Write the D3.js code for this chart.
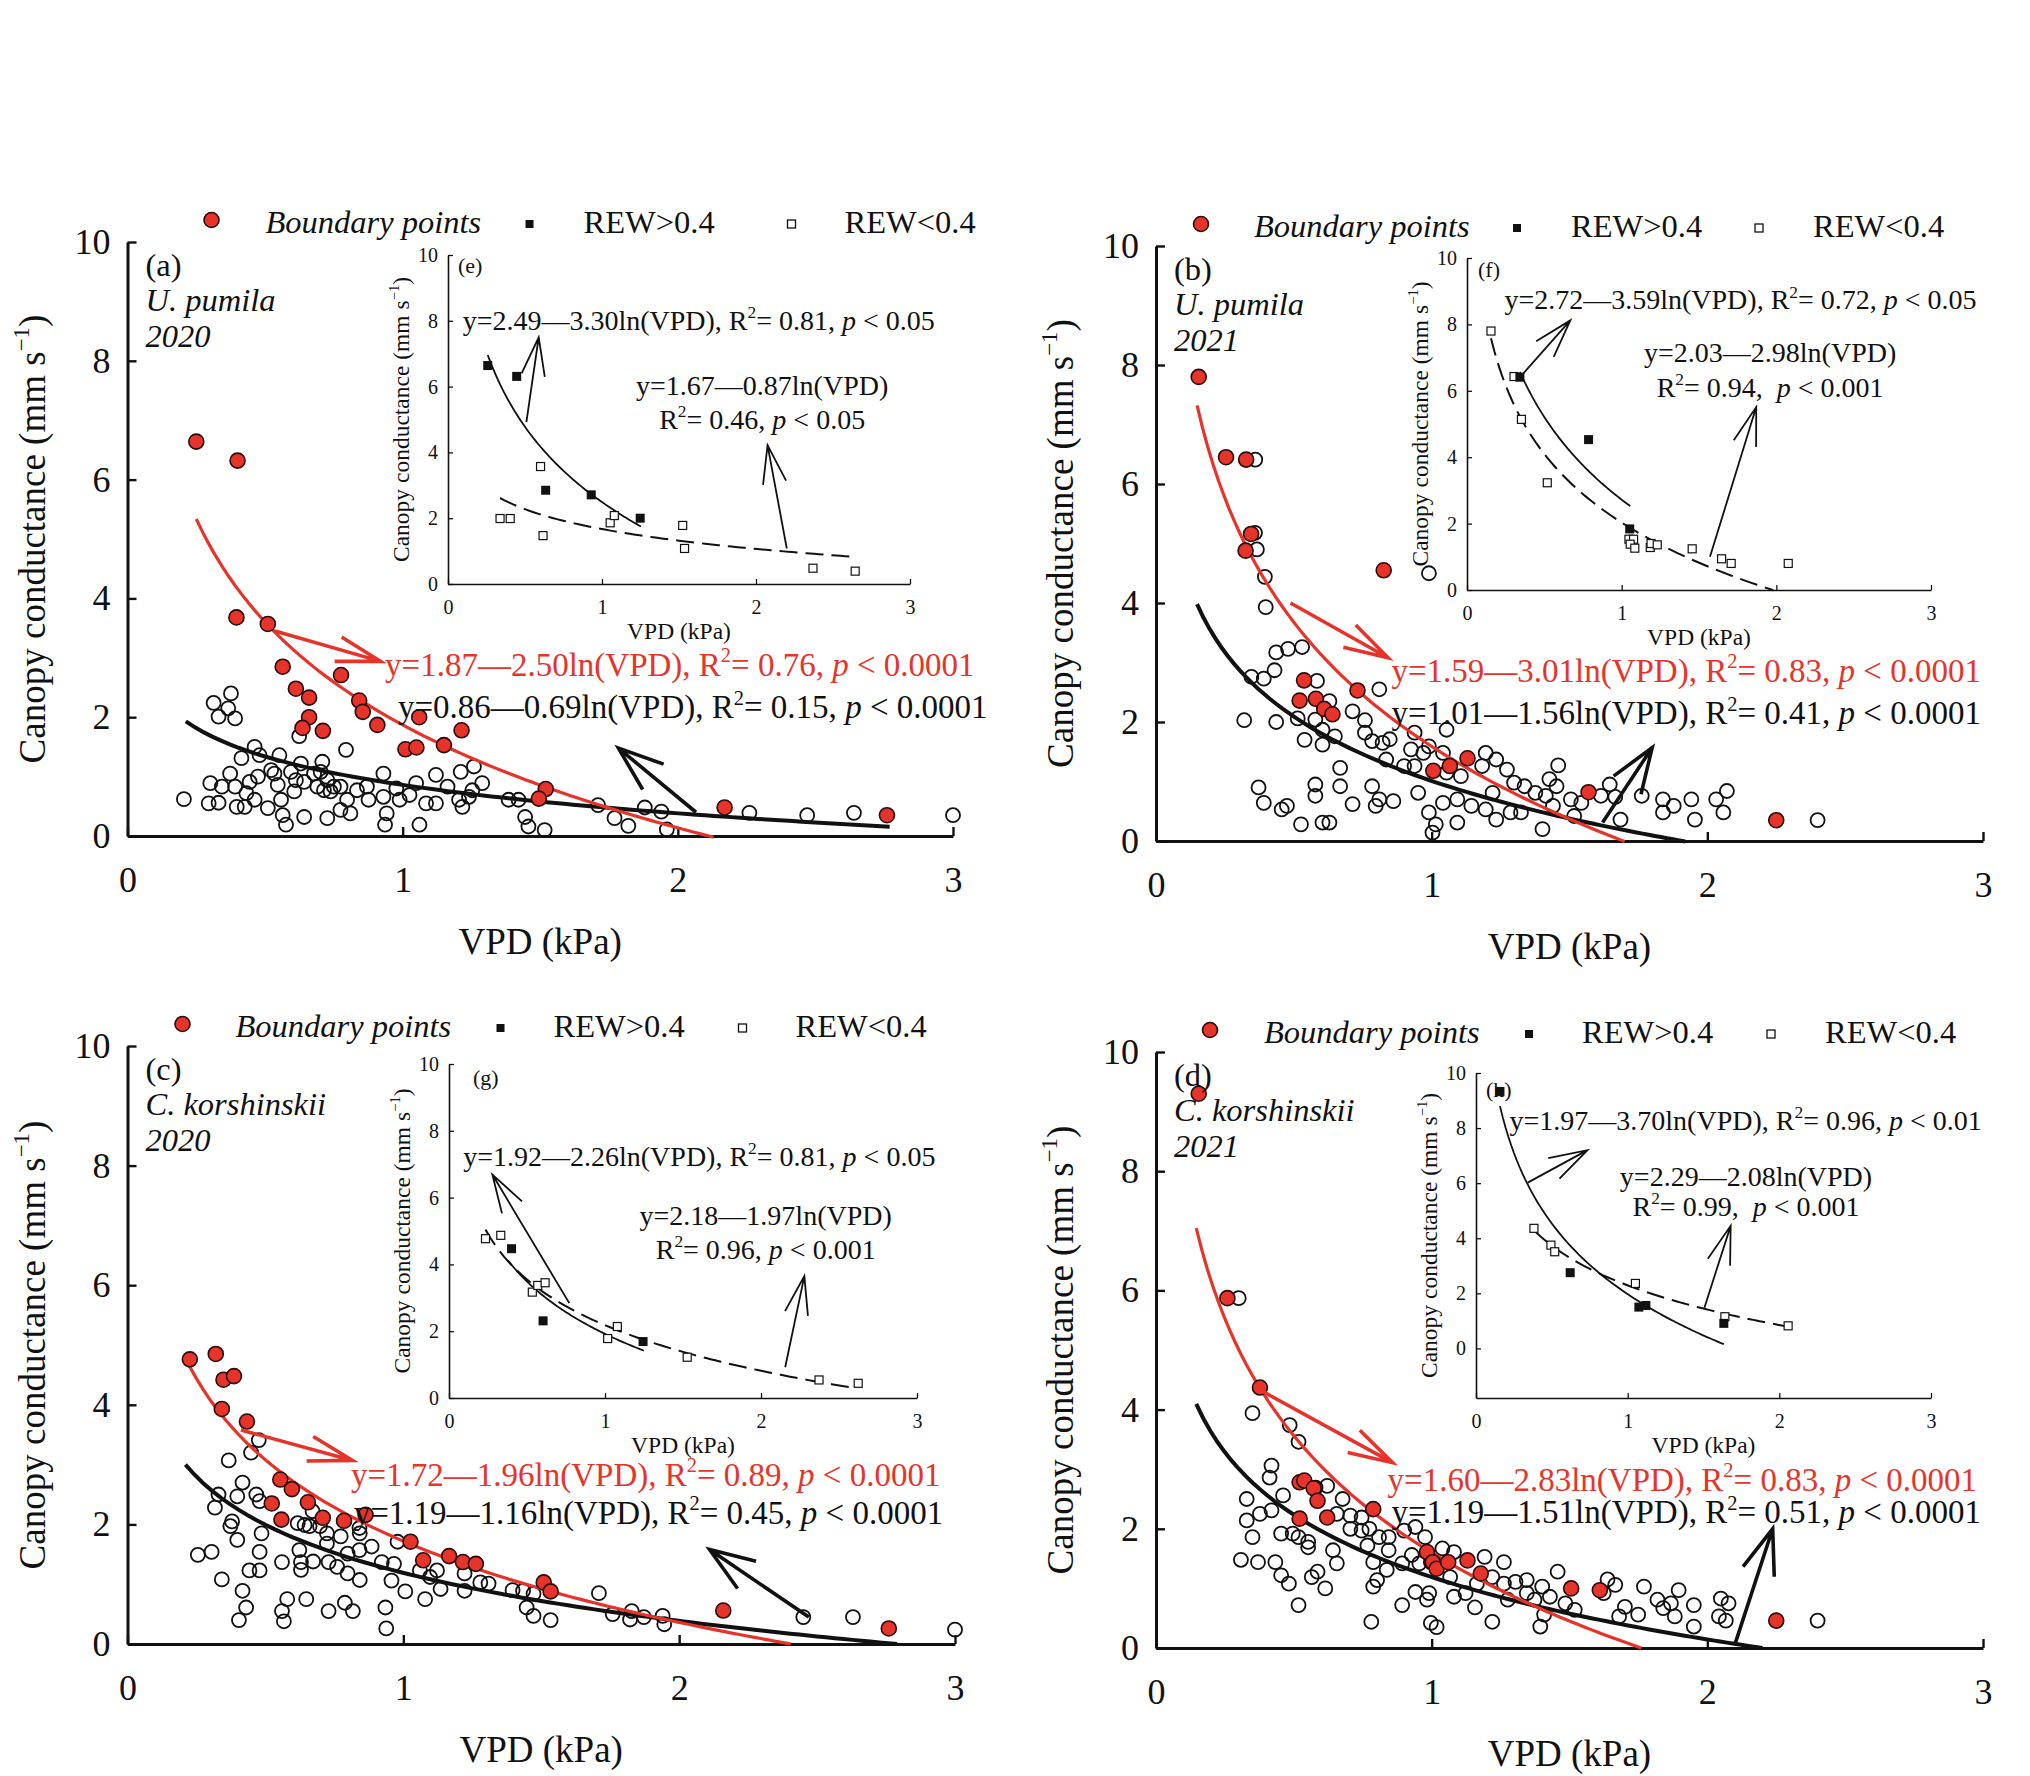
<!DOCTYPE html>
<html>
<head>
<meta charset="utf-8">
<script src="https://cdn.jsdelivr.net/npm/d3@7"></script>
<style>
  body { margin: 0; background: #fff; }
  text { font-family: "Liberation Serif", "Times New Roman", serif; white-space: pre; }
</style>
</head>
<body>
<div id="mainDiv"></div>
<script>
// ---------- data ----------
var xTicks = [0, 1, 2, 3];
var yTicks = [0, 2, 4, 6, 8, 10];
var legendLabels = ["Boundary points", "REW>0.4", "REW<0.4"];
var panelTags = ["(a)", "(b)", "(c)", "(d)"];
var insetTags = ["(e)", "(f)", "(g)", "(h)"];
var species = ["U. pumila", "U. pumila", "C. korshinskii", "C. korshinskii"];
var years = ["2020", "2021", "2020", "2021"];

// boundary-line fits (red) and all-data fits (black), y = a - b ln(VPD)
var redA = [1.87, 1.59, 1.72, 1.60];
var redB = [2.50, 3.01, 1.96, 2.83];
var redR2 = [0.76, 0.83, 0.89, 0.83];
var redRange = [[0.25, 2.13], [0.149, 1.70], [0.22, 2.405], [0.146, 1.76]];
var blackA = [0.86, 1.01, 1.19, 1.19];
var blackB = [0.69, 1.56, 1.16, 1.51];
var blackR2 = [0.15, 0.41, 0.45, 0.51];
var blackRange = [[0.212, 2.77], [0.149, 1.92], [0.21, 2.79], [0.146, 2.20]];
var mainP = ["0.0001", "0.0001", "0.0001", "0.0001"];

// inset fits: solid = REW>0.4, dashed = REW<0.4
var solidA = [2.49, 2.72, 1.92, 1.97];
var solidB = [3.30, 3.59, 2.26, 3.70];
var solidR2 = [0.81, 0.72, 0.81, 0.96];
var solidP = ["0.05", "0.05", "0.05", "0.01"];
var solidRange = [[0.258, 1.253], [0.342, 1.055], [0.377, 1.249], [0.158, 1.634]];
var dashA = [1.67, 2.03, 2.18, 2.29];
var dashB = [0.87, 2.98, 1.97, 2.08];
var dashR2 = [0.46, 0.94, 0.96, 0.99];
var dashP = ["0.05", "0.001", "0.001", "0.001"];
var dashRange = [[0.338, 2.606], [0.155, 1.98], [0.234, 2.60], [0.382, 2.058]];

var aBoundary = [[0.25,6.64],[0.40,6.32],[0.396,3.68],[0.51,3.57],[0.564,2.85],[0.612,2.48],[0.66,2.33],[0.66,2.0],[0.636,1.82],[0.71,1.77],[0.776,2.71],[0.842,2.28],[0.855,2.09],[0.908,1.87],[1.06,2.0],[1.01,1.46],[1.05,1.49],[1.214,1.78],[1.15,1.53],[1.52,0.79],[1.495,0.63],[2.17,0.48],[2.76,0.35]];
var aOpen = [[0.376,2.40],[0.313,2.24],[0.366,2.15],[0.331,2.01],[0.391,1.98],[0.624,1.68],[0.794,1.45],
  [0.462,1.50],[0.414,1.31],[0.480,1.36],[0.552,1.36],[0.630,1.22],[0.708,1.25],[0.373,1.05],[0.301,0.89],[0.343,0.83],[0.391,0.83],[0.444,0.91],[0.474,1.00],[0.522,1.11],[0.546,0.86],[0.612,0.94],[0.642,0.91],[0.702,1.08],[0.726,0.94],[0.774,0.83],[0.834,0.77],[0.870,0.83],[0.930,1.05],[0.977,0.80],[1.049,0.89],[1.121,1.03],[1.163,0.83],[1.211,1.08],[1.259,1.17],[1.289,0.89],[0.205,0.62],[0.295,0.55],[0.331,0.56],[0.397,0.49],[0.432,0.72],[0.510,0.47],[0.558,0.61],[0.564,0.35],[0.606,0.75],[0.642,0.32],[0.714,0.77],[0.738,0.75],[0.774,0.44],[0.798,0.61],[0.810,0.38],[0.876,0.61],[0.930,0.66],[0.942,0.38],[0.989,0.61],[1.025,0.69],[1.085,0.55],[1.121,0.55],[1.205,0.61],[1.217,0.49],[1.253,0.77],[1.385,0.61],[1.421,0.61],[1.445,0.32],[1.457,0.16],[1.516,0.10],[0.936,0.19],[1.061,0.19],[0.576,0.19],[0.726,0.30],[1.241,0.66],[0.462,0.61],[0.426,0.49],[0.690,0.83],[0.534,1.05],[0.594,1.08],[0.678,1.05],[0.750,0.83],
  [1.71,0.52],[1.77,0.30],[1.82,0.17],[1.88,0.48],[1.94,0.41],[1.96,0.11],[2.26,0.39],[2.47,0.35],[2.64,0.39],[3.00,0.35]];

var bBoundary = [[0.155,7.8],[0.254,6.45],[0.327,6.41],[0.345,5.16],[0.325,4.88],[0.826,4.55],[0.537,2.70],[0.521,2.36],[0.58,2.39],[0.61,2.22],[0.64,2.13],[0.731,2.53],[1.006,1.18],[1.066,1.26],[1.13,1.39],[1.569,0.82],[2.25,0.35]];
var bOpen = [[0.36,6.41],[0.99,4.50],[0.359,5.18],[0.366,4.90],[0.395,4.44],[0.398,3.93],[0.436,3.17],[0.479,3.23],[0.530,3.26],[0.430,2.87],[0.346,2.76],[0.391,2.73],[0.584,2.69],[0.810,2.55],[0.320,2.03],[0.436,2.00],[0.514,2.06],[0.578,2.04],[0.629,2.35],[0.713,2.18],[0.758,2.03],[0.604,1.87],[0.539,1.70],[0.604,1.62],[0.649,1.76],[0.758,1.82],[0.784,1.68],[0.822,1.65],[0.848,1.71],[0.938,1.82],[0.925,1.54],[0.990,1.59],[1.054,1.87],[0.835,1.37],[0.900,1.26],[0.938,1.26],[0.970,1.48],[1.041,1.48],[1.054,1.15],[1.106,1.09],[1.183,1.26],[1.234,1.37],[1.273,1.20],[1.196,1.48],[1.299,0.98],[1.337,0.92],[1.376,0.81],[1.414,0.76],[1.453,0.92],[1.459,1.27],[1.427,1.04],[1.505,0.70],[1.517,0.42],[1.646,0.95],[1.614,0.76],[1.666,0.74],[1.685,0.36],[1.762,0.76],[1.839,0.70],[1.878,0.59],[1.942,0.70],[1.955,0.36],[1.839,0.48],[2.032,0.70],[2.071,0.84],[2.058,0.48],[0.372,0.90],[0.391,0.64],[0.456,0.53],[0.475,0.59],[0.526,0.28],[0.578,0.95],[0.578,0.76],[0.604,0.31],[0.629,0.31],[0.668,0.92],[0.668,1.23],[0.713,0.62],[0.784,0.92],[0.810,0.70],[0.797,0.59],[0.861,0.67],[0.951,0.81],[0.990,0.48],[1.015,0.28],[1.003,0.14],[1.041,0.64],[1.093,0.70],[1.093,0.31],[1.144,0.59],[1.196,0.53],[1.221,0.81],[1.234,0.36],[1.286,0.48],[1.324,0.48],[1.402,0.20],[1.440,0.59],[1.543,0.64],[2.40,0.35]];

var cBoundary = [[0.226,4.76],[0.32,4.85],[0.348,4.42],[0.386,4.48],[0.342,3.93],[0.433,3.72],[0.554,2.75],[0.596,2.59],[0.654,2.37],[0.523,2.35],[0.558,2.08],[0.708,2.11],[0.785,2.06],[0.863,2.16],[1.026,1.71],[1.072,1.40],[1.166,1.47],[1.216,1.37],[1.263,1.34],[1.509,1.03],[1.534,0.88],[2.16,0.56],[2.76,0.26]];
var cOpen = [[0.476,3.41],[0.448,3.20],[0.367,3.07],[0.417,2.70],[0.330,2.50],[0.398,2.47],[0.467,2.50],[0.479,2.39],[0.317,2.28],[0.379,2.05],[0.373,1.97],[0.398,1.74],[0.486,1.85],[0.479,1.54],[0.255,1.49],[0.305,1.54],[0.342,1.08],[0.442,1.23],[0.479,1.23],[0.417,0.89],[0.430,0.61],[0.404,0.40],[0.560,1.37],[0.560,0.55],[0.579,0.75],[0.567,0.38],[0.648,0.75],[0.629,1.37],[0.629,1.24],[0.673,1.38],[0.623,1.57],[0.617,2.02],[0.660,1.97],[0.723,1.85],[0.723,1.68],[0.773,1.80],[0.798,1.51],[0.729,1.37],[0.760,1.29],[0.798,1.18],[0.842,1.07],[0.842,1.85],[0.885,1.63],[0.841,1.57],[0.922,1.37],[0.966,1.34],[0.957,1.06],[0.729,0.55],[0.788,0.69],[0.817,0.55],[0.935,0.61],[0.938,0.26],[1.007,0.88],[1.079,0.75],[0.979,1.71],[1.060,1.23],[1.122,1.23],[1.097,1.12],[1.135,0.92],[1.222,0.89],[1.222,1.18],[1.279,1.03],[1.309,1.01],[1.396,0.90],[1.434,0.89],[1.472,0.84],[1.447,0.61],[1.472,0.47],[1.534,0.40],[1.709,0.85],[1.759,0.50],[1.828,0.55],[1.822,0.41],[1.872,0.45],[1.940,0.47],[1.946,0.33],[0.841,1.94],[0.671,2.22],[0.642,1.99],[0.698,1.97],[2.45,0.45],[2.63,0.45],[3.00,0.24]];

var dBoundary = [[0.155,9.3],[0.259,5.87],[0.377,4.37],[0.521,2.78],[0.538,2.81],[0.572,2.68],[0.586,2.47],[0.621,2.19],[0.521,2.17],[0.788,2.33],[0.983,1.61],[1.004,1.44],[1.018,1.33],[1.06,1.44],[1.13,1.47],[1.178,1.25],[1.506,1.0],[1.61,0.97],[2.25,0.46]];
var dOpen = [[0.30,5.87],[0.35,3.94],[0.485,3.74],[0.517,3.46],[0.419,3.06],[0.412,2.86],[0.461,2.56],[0.329,2.50],[0.377,2.25],[0.329,2.14],[0.419,2.31],[0.350,1.86],[0.454,1.92],[0.496,1.92],[0.552,1.78],[0.552,1.69],[0.579,2.69],[0.621,2.72],[0.677,2.50],[0.656,2.25],[0.705,2.22],[0.705,2.00],[0.746,1.97],[0.746,2.19],[0.642,1.64],[0.656,1.42],[0.774,2.00],[0.809,1.86],[0.844,1.86],[0.900,1.97],[0.941,2.03],[0.976,1.86],[0.767,1.72],[0.844,1.64],[0.788,1.44],[0.837,1.31],[0.802,1.14],[0.788,1.03],[0.893,1.42],[0.928,1.56],[0.955,1.42],[1.039,1.67],[1.081,1.61],[1.192,1.53],[1.262,1.44],[1.067,1.19],[1.220,1.19],[1.262,1.08],[1.304,1.11],[1.345,1.14],[1.401,1.03],[1.457,1.28],[1.429,0.86],[1.373,0.81],[1.345,0.92],[1.276,0.81],[1.164,1.08],[1.123,0.92],[1.081,0.86],[0.983,0.81],[0.991,0.92],[0.941,0.94],[0.893,0.72],[1.157,0.68],[1.220,0.44],[1.408,0.56],[1.394,0.36],[1.519,0.64],[1.485,0.75],[1.638,1.15],[1.666,1.06],[1.624,0.92],[1.770,1.03],[1.896,0.97],[1.701,0.69],[1.680,0.53],[1.749,0.56],[1.819,0.81],[1.840,0.67],[1.882,0.53],[1.951,0.72],[1.951,0.36],[2.049,0.83],[2.077,0.75],[2.042,0.53],[2.067,0.46],[0.308,1.48],[0.370,1.44],[0.433,1.44],[0.454,1.22],[0.482,1.08],[0.565,1.19],[0.586,1.28],[0.614,1.00],[0.517,0.72],[0.781,0.44],[0.997,0.42],[1.018,0.35],[0.517,1.86],[0.997,1.44],[1.868,0.75],[2.40,0.46]];

var eHigh = [[0.258,6.64],[0.446,6.31],[0.634,2.85],[0.93,2.71],[1.248,2.0]];
var eLow = [[0.338,1.99],[0.404,1.99],[0.601,3.57],[0.617,1.47],[1.053,1.86],[1.08,2.08],[1.524,1.78],[1.536,1.08],[2.37,0.48],[2.644,0.39]];
var fHigh = [[0.342,6.41],[0.786,4.53],[1.052,1.84]];
var fLow = [[0.155,7.80],[0.304,6.43],[0.352,5.14],[0.519,3.23],[1.047,1.53],[1.077,1.53],[1.055,1.38],[1.085,1.26],[1.185,1.28],[1.19,1.40],[1.23,1.36],[1.456,1.24],[1.646,0.94],[1.708,0.80],[2.077,0.80]];
var gHigh = [[0.401,4.47],[0.603,2.31],[1.244,1.69]];
var gLow = [[0.234,4.77],[0.332,4.87],[0.534,3.17],[0.569,3.37],[0.616,3.45],[1.017,1.78],[1.079,2.14],[1.527,1.22],[2.372,0.54],[2.623,0.44]];
var hHigh = [[0.158,9.33],[0.621,2.75],[1.074,1.50],[1.12,1.56],[1.634,0.91]];
var hLow = [[0.382,4.36],[0.494,3.75],[0.519,3.51],[1.051,2.36],[1.641,1.15],[2.058,0.82]];

var boundarySets = [aBoundary, bBoundary, cBoundary, dBoundary];
var openSets = [aOpen, bOpen, cOpen, dOpen];
var highSets = [eHigh, fHigh, gHigh, hHigh];
var lowSets = [eLow, fLow, gLow, hLow];

// ---------- layout (pixels) and annotation anchors (data units) ----------
var layout = [
  { x0: 127.5, x1: 953, top: 242, bot: 836, legend: [84, 138, 402, 456, 664, 717],
    inset: { x0: 448, x1: 910, top: 255, bot: 584, yMin: 0, tag: [10, 18] } },
  { x0: 1156, x1: 1983, top: 246, bot: 841, legend: [45, 98, 361, 415, 603, 657],
    inset: { x0: 1467, x1: 1931, top: 258, bot: 590, yMin: 0, tag: [11, 19] } },
  { x0: 127.5, x1: 955, top: 1046, bot: 1644, legend: [55, 108, 373, 426, 615, 668],
    inset: { x0: 449, x1: 917, top: 1064, bot: 1398, yMin: 0, tag: [24, 21] } },
  { x0: 1156, x1: 1983, top: 1052, bot: 1648, legend: [54, 108, 373, 426, 615, 669],
    inset: { x0: 1476, x1: 1931, top: 1073, bot: 1398, yMin: -1.8, tag: [10, 24] } }
];
// [tailX, tailY, tipX, tipY]
var redArrows = [[0.536,3.45,0.92,2.94],[0.488,4.0,0.842,3.08],[0.411,3.58,0.816,3.07],[0.377,4.33,0.858,3.11]];
var blackArrows = [[2.066,0.40,1.784,1.48],[1.62,0.31,1.80,1.57],[2.47,0.45,2.11,1.58],[2.10,0.06,2.237,2.0]];
var redEqPos = [[0.936,2.70],[0.854,2.67],[0.81,2.64],[0.84,2.63]];
var blackEqPos = [[0.983,1.98],[0.854,1.96],[0.82,2.01],[0.854,2.09]];
var insetArrows1 = [[0.509,4.92,0.589,7.50],[0.362,6.51,0.668,8.12],[0.771,2.84,0.278,6.69],[0.341,6.02,0.735,7.2]];
var insetArrows2 = [[2.2,1.08,2.075,4.22],[1.571,1.0,1.87,5.51],[2.155,0.92,2.278,3.65],[1.506,1.48,1.679,4.45]];
var solidEqPos = [[0.095,7.73],[0.242,8.45],[0.091,6.94],[0.221,7.93]];
var dashEqPos = [[2.04,5.73,4.72],[1.96,6.86,5.81],[2.03,5.19,4.17],[1.78,5.90,4.81]];
var dashGap = ["", " ", "", " "];

var RED = "#e6342b";
var INK = "#111";

var svg = d3.select("#mainDiv").append("svg").attr("width", 2030).attr("height", 1776);

// ---------- helpers ----------
function rich(g, x, y, parts, size, fill, anchor) {
  var t = g.append("text").attr("x", x).attr("y", y).attr("font-size", size)
    .attr("fill", fill).attr("text-anchor", anchor || "start");
  var up = false;
  parts.forEach(function(p) {
    var s = t.append("tspan").text(p[0]);
    if (p[1] === "sup") {
      s.attr("font-size", size * 0.62).attr("dy", -size * 0.42);
      up = true;
    } else {
      if (up) { s.attr("dy", size * 0.42); up = false; }
      if (p[1] === "i") s.attr("font-style", "italic");
    }
  });
  return t;
}
function fitParts(a, b) {
  return [["y=" + a.toFixed(2) + "\u2014" + b.toFixed(2) + "ln(VPD)", ""]];
}
function statParts(r2, p, gap) {
  return [["R", ""], ["2", "sup"], ["= " + r2.toFixed(2) + "," + gap + " ", ""], ["p", "i"], [" < " + p, ""]];
}
function fullEq(a, b, r2, p) {
  return fitParts(a, b).concat([[", ", ""]]).concat(statParts(r2, p, ""));
}
function logCurve(a, b, range) {
  return d3.range(0, 81).map(function(k) {
    var v = range[0] + (range[1] - range[0]) * k / 80;
    return [v, a - b * Math.log(v)];
  });
}
function arrow(g, x, y, arr, color, width, head, half) {
  var tx = x(arr[0]), ty = y(arr[1]), px = x(arr[2]), py = y(arr[3]);
  var ang = Math.atan2(ty - py, tx - px);
  var h = half * Math.PI / 180;
  var b1 = [px + head * Math.cos(ang + h), py + head * Math.sin(ang + h)];
  var b2 = [px + head * Math.cos(ang - h), py + head * Math.sin(ang - h)];
  g.append("path")
    .attr("d", "M" + tx + "," + ty + "L" + px + "," + py +
               "M" + b1[0] + "," + b1[1] + "L" + px + "," + py + "L" + b2[0] + "," + b2[1])
    .attr("fill", "none").attr("stroke", color).attr("stroke-width", width)
    .attr("stroke-linejoin", "miter").attr("stroke-linecap", "butt");
}
function styleAxis(ax, size, lw) {
  ax.attr("font-family", "'Liberation Serif', 'Times New Roman', serif").attr("font-size", size);
  ax.select(".domain").attr("stroke", INK).attr("stroke-width", lw);
  ax.selectAll(".tick line").attr("stroke", INK).attr("stroke-width", lw * 0.8);
  ax.selectAll(".tick text").attr("fill", INK);
}
function yTitle(g, cx, cy, size) {
  var t = rich(g, 0, 0, [["Canopy conductance (mm s", ""], ["\u22121", "sup"], [")", ""]], size, INK, "middle");
  t.attr("transform", "translate(" + cx + "," + cy + ") rotate(-90)");
}

// ---------- main panels ----------
function drawPanel(i) {
  var L = layout[i];
  var g = svg.append("g");
  var x = d3.scaleLinear().domain([0, 3]).range([L.x0, L.x1]);
  var y = d3.scaleLinear().domain([0, 10]).range([L.bot, L.top]);

  var ax = g.append("g").attr("transform", "translate(0," + L.bot + ")")
    .call(d3.axisBottom(x).tickValues(xTicks).tickFormat(d3.format("d"))
      .tickSizeInner(-9).tickSizeOuter(0).tickPadding(30));
  styleAxis(ax, 36, 3);
  var ay = g.append("g").attr("transform", "translate(" + L.x0 + ",0)")
    .call(d3.axisLeft(y).tickValues(yTicks).tickFormat(d3.format("d"))
      .tickSizeInner(-9).tickSizeOuter(0).tickPadding(17));
  styleAxis(ay, 36, 3);

  g.append("text").attr("x", (L.x0 + L.x1) / 2).attr("y", L.bot + 118)
    .attr("text-anchor", "middle").attr("font-size", 37).attr("fill", INK).text("VPD (kPa)");
  yTitle(g, L.x0 - 83, (L.top + L.bot) / 2, 37);

  // open circles (all data)
  g.selectAll("circle.open").data(openSets[i]).enter().append("circle")
    .attr("cx", function(d) { return x(d[0]); }).attr("cy", function(d) { return y(d[1]); })
    .attr("r", 7).attr("fill", "none").attr("stroke", INK).attr("stroke-width", 1.8);

  var line = d3.line().x(function(d) { return x(d[0]); }).y(function(d) { return y(d[1]); });
  g.append("path").attr("d", line(logCurve(blackA[i], blackB[i], blackRange[i])))
    .attr("fill", "none").attr("stroke", INK).attr("stroke-width", 4);
  g.append("path").attr("d", line(logCurve(redA[i], redB[i], redRange[i])))
    .attr("fill", "none").attr("stroke", RED).attr("stroke-width", 3.2);

  g.selectAll("circle.bnd").data(boundarySets[i]).enter().append("circle")
    .attr("cx", function(d) { return x(d[0]); }).attr("cy", function(d) { return y(d[1]); })
    .attr("r", 7.5).attr("fill", RED).attr("stroke", "#2a0a0a").attr("stroke-width", 1.6);

  arrow(g, x, y, redArrows[i], RED, 3.6, 46, 16);
  arrow(g, x, y, blackArrows[i], INK, 3.6, 48, 20);

  rich(g, x(redEqPos[i][0]), y(redEqPos[i][1]), fullEq(redA[i], redB[i], redR2[i], mainP[i]), 33, RED);
  rich(g, x(blackEqPos[i][0]), y(blackEqPos[i][1]), fullEq(blackA[i], blackB[i], blackR2[i], mainP[i]), 33, INK);

  // panel labels
  g.append("text").attr("x", L.x0 + 18).attr("y", L.top + 34).attr("font-size", 32.5).attr("fill", INK).text(panelTags[i]);
  g.append("text").attr("x", L.x0 + 18).attr("y", L.top + 69).attr("font-size", 32.5).attr("font-style", "italic").attr("fill", INK).text(species[i]);
  g.append("text").attr("x", L.x0 + 18).attr("y", L.top + 105).attr("font-size", 32.5).attr("font-style", "italic").attr("fill", INK).text(years[i]);

  // legend
  var lg = L.legend, ly = L.top - 22;
  g.append("circle").attr("cx", L.x0 + lg[0]).attr("cy", ly).attr("r", 7.5)
    .attr("fill", RED).attr("stroke", "#2a0a0a").attr("stroke-width", 1.6);
  g.append("text").attr("x", L.x0 + lg[1]).attr("y", L.top - 9).attr("font-size", 32.5)
    .attr("font-style", "italic").attr("fill", INK).text(legendLabels[0]);
  g.append("rect").attr("x", L.x0 + lg[2] - 4).attr("y", ly).attr("width", 8).attr("height", 8).attr("fill", INK);
  g.append("text").attr("x", L.x0 + lg[3]).attr("y", L.top - 9).attr("font-size", 32.5).attr("fill", INK).text(legendLabels[1]);
  g.append("rect").attr("x", L.x0 + lg[4] - 4).attr("y", ly).attr("width", 8).attr("height", 8)
    .attr("fill", "#fff").attr("stroke", INK).attr("stroke-width", 1.3);
  g.append("text").attr("x", L.x0 + lg[5]).attr("y", L.top - 9).attr("font-size", 32.5).attr("fill", INK).text(legendLabels[2]);

  drawInset(i);
}

// ---------- insets ----------
function drawInset(i) {
  var I = layout[i].inset;
  var g = svg.append("g");
  var x = d3.scaleLinear().domain([0, 3]).range([I.x0, I.x1]);
  var y = d3.scaleLinear().domain([I.yMin, 10]).range([I.bot, I.top]);

  var ax = g.append("g").attr("transform", "translate(0," + I.bot + ")")
    .call(d3.axisBottom(x).tickValues(xTicks).tickFormat(d3.format("d"))
      .tickSizeInner(-5).tickSizeOuter(0).tickPadding(16));
  styleAxis(ax, 20, 1.6);
  var ay = g.append("g").attr("transform", "translate(" + I.x0 + ",0)")
    .call(d3.axisLeft(y).tickValues(yTicks).tickFormat(d3.format("d"))
      .tickSizeInner(-5).tickSizeOuter(0).tickPadding(10));
  styleAxis(ay, 20, 1.6);

  g.append("text").attr("x", (I.x0 + I.x1) / 2).attr("y", I.bot + 55)
    .attr("text-anchor", "middle").attr("font-size", 23.5).attr("fill", INK).text("VPD (kPa)");
  yTitle(g, I.x0 - 39, (I.top + I.bot) / 2, 23.5);
  g.append("text").attr("x", I.x0 + I.tag[0]).attr("y", I.top + I.tag[1])
    .attr("font-size", 22).attr("fill", INK).text(insetTags[i]);

  var line = d3.line().x(function(d) { return x(d[0]); }).y(function(d) { return y(d[1]); });
  g.append("path").attr("d", line(logCurve(solidA[i], solidB[i], solidRange[i])))
    .attr("fill", "none").attr("stroke", INK).attr("stroke-width", 1.8);
  g.append("path").attr("d", line(logCurve(dashA[i], dashB[i], dashRange[i])))
    .attr("fill", "none").attr("stroke", INK).attr("stroke-width", 2).attr("stroke-dasharray", "18,8");

  g.selectAll("rect.low").data(lowSets[i]).enter().append("rect")
    .attr("x", function(d) { return x(d[0]) - 4; }).attr("y", function(d) { return y(d[1]) - 4; })
    .attr("width", 8).attr("height", 8).attr("fill", "#fff").attr("stroke", INK).attr("stroke-width", 1.2);
  g.selectAll("rect.high").data(highSets[i]).enter().append("rect")
    .attr("x", function(d) { return x(d[0]) - 4.5; }).attr("y", function(d) { return y(d[1]) - 4.5; })
    .attr("width", 9).attr("height", 9).attr("fill", INK);

  arrow(g, x, y, insetArrows1[i], INK, 1.8, 40, 17);
  arrow(g, x, y, insetArrows2[i], INK, 1.8, 40, 17);

  rich(g, x(solidEqPos[i][0]), y(solidEqPos[i][1]), fullEq(solidA[i], solidB[i], solidR2[i], solidP[i]), 28, INK);
  var dp = dashEqPos[i];
  rich(g, x(dp[0]), y(dp[1]), fitParts(dashA[i], dashB[i]), 28, INK, "middle");
  rich(g, x(dp[0]), y(dp[2]), statParts(dashR2[i], dashP[i], dashGap[i]), 28, INK, "middle");
}

[0, 1, 2, 3].forEach(drawPanel);
</script>
</body>
</html>
